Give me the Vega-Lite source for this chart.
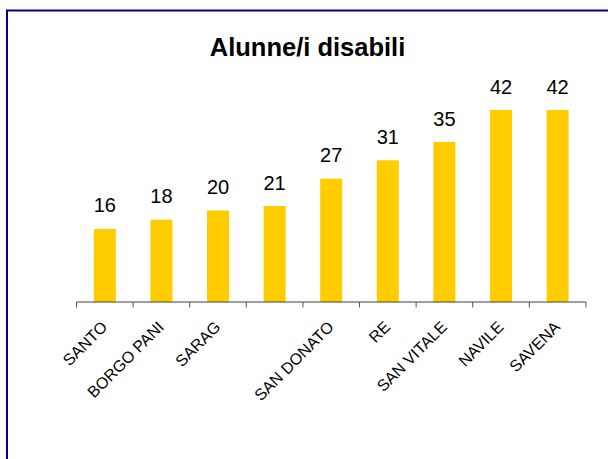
{
  "$schema": "https://vega.github.io/schema/vega-lite/v6.json",
  "width": 601,
  "height": 448.5,
  "autosize": {"type": "none"},
  "padding": {"left": 7, "top": 10.5, "right": 0, "bottom": 0},
  "background": "white",
  "config": {
    "font": "Liberation Sans",
    "view": {"stroke": "#000080", "strokeWidth": 2, "strokeDash": [601, 1049.5, 448.5]}
  },
  "title": {
    "text": "Alunne/i disabili",
    "fontSize": 25.5,
    "fontWeight": "bold",
    "color": "black",
    "anchor": "middle",
    "frame": "group",
    "baseline": "alphabetic",
    "offset": -46.8,
    "dy": 24
  },
  "data": {
    "values": [
      {"quartiere": "SANTO", "alunni": 16},
      {"quartiere": "BORGO PANI", "alunni": 18},
      {"quartiere": "SARAG", "alunni": 20},
      {"quartiere": "PORTO", "alunni": 21},
      {"quartiere": "SAN DONATO", "alunni": 27},
      {"quartiere": "RE", "alunni": 31},
      {"quartiere": "SAN VITALE", "alunni": 35},
      {"quartiere": "NAVILE", "alunni": 42},
      {"quartiere": "SAVENA", "alunni": 42}
    ]
  },
  "encoding": {
    "x": {
      "field": "quartiere",
      "type": "nominal",
      "sort": null,
      "scale": {
        "domain": [" ", "SANTO", "BORGO PANI", "SARAG", "PORTO", "SAN DONATO", "RE", "SAN VITALE", "NAVILE", "SAVENA"],
        "paddingInner": 0.611,
        "paddingOuter": 0.6146,
        "align": 0.434
      },
      "axis": {
        "title": null,
        "orient": "bottom",
        "offset": -157,
        "domain": false,
        "ticks": false,
        "labelAngle": -45,
        "labelAlign": "right",
        "labelBaseline": "middle",
        "labelPadding": 22,
        "labelFontSize": 16,
        "labelColor": "black",
        "labelOverlap": false,
        "labelLimit": 300,
        "labelExpr": "datum.label == 'PORTO' ? '' : datum.label"
      }
    }
  },
  "layer": [
    {
      "mark": {"type": "bar", "color": "#FFCC00"},
      "encoding": {
        "y": {
          "field": "alunni",
          "type": "quantitative",
          "scale": {"domain": [-34.35, 63.79], "nice": false, "zero": false},
          "axis": null
        },
        "y2": {"datum": 0}
      }
    },
    {
      "mark": {"type": "text", "fontSize": 20, "color": "black", "baseline": "alphabetic", "dy": -16.5},
      "encoding": {
        "y": {"field": "alunni", "type": "quantitative"},
        "text": {"field": "alunni", "type": "quantitative"}
      }
    },
    {
      "mark": {"type": "rule", "color": "#555555", "strokeWidth": 1},
      "encoding": {
        "x": {"field": "quartiere", "type": "nominal", "bandPosition": -0.785},
        "y": {"datum": 0},
        "y2": {"datum": -1.2}
      }
    },
    {
      "data": {"values": [{"da": "SANTO", "a": "SAVENA", "base": 0}]},
      "layer": [
        {
          "mark": {"type": "rule", "color": "#404040", "strokeWidth": 1},
          "encoding": {
            "x": {"field": "da", "type": "nominal", "bandPosition": -0.785},
            "x2": {"field": "a", "bandPosition": 1.785},
            "y": {"field": "base", "type": "quantitative"}
          }
        },
        {
          "mark": {"type": "rule", "color": "#555555", "strokeWidth": 1},
          "encoding": {
            "x": {"field": "a", "type": "nominal", "bandPosition": 1.785},
            "y": {"datum": 0},
            "y2": {"datum": -1.2}
          }
        }
      ]
    }
  ]
}
